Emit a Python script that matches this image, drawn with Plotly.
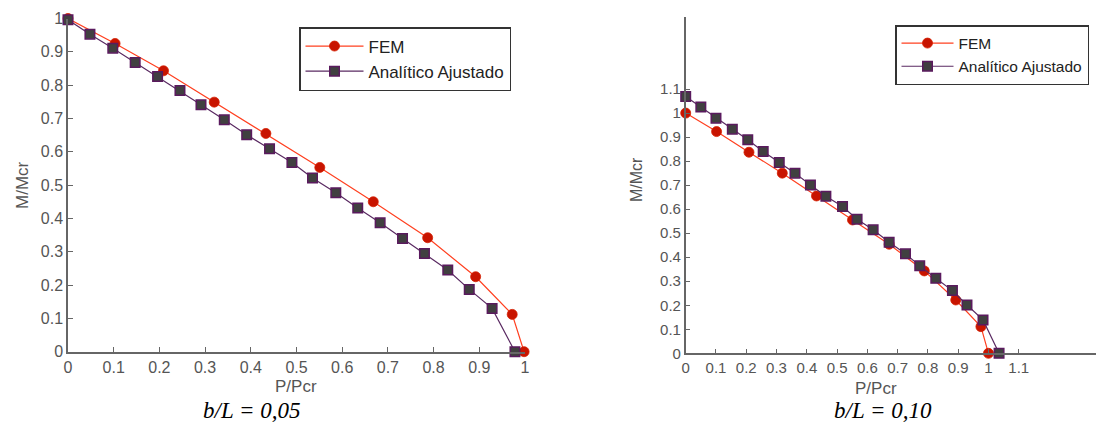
import plotly.graph_objects as go

# Left chart (b/L = 0,05)
fem_x_05 = [0, 0.103, 0.209, 0.32, 0.433, 0.551, 0.668, 0.787, 0.892, 0.972, 0.998]
fem_y_05 = [1.0, 0.925, 0.843, 0.749, 0.655, 0.553, 0.45, 0.342, 0.225, 0.112, 0.0]
ana_x_05 = [0, 0.048, 0.098, 0.147, 0.196, 0.245, 0.291, 0.342, 0.391, 0.441, 0.49,
            0.535, 0.586, 0.634, 0.683, 0.732, 0.78, 0.831, 0.878, 0.928, 0.978]
ana_y_05 = [0.996, 0.953, 0.911, 0.868, 0.826, 0.784, 0.741, 0.696, 0.651, 0.609, 0.568,
            0.521, 0.477, 0.431, 0.387, 0.34, 0.295, 0.245, 0.187, 0.13, 0.0]

# Right chart (b/L = 0,10)
fem_x_10 = [0, 0.102, 0.209, 0.319, 0.432, 0.551, 0.672, 0.788, 0.892, 0.975, 1.0]
fem_y_10 = [1.0, 0.923, 0.837, 0.75, 0.655, 0.555, 0.454, 0.343, 0.222, 0.111, 0.0]
ana_x_10 = [0, 0.05, 0.1, 0.154, 0.205, 0.256, 0.309, 0.361, 0.412, 0.463, 0.518,
            0.566, 0.619, 0.672, 0.726, 0.773, 0.826, 0.881, 0.929, 0.982, 1.035]
ana_y_10 = [1.069, 1.025, 0.979, 0.933, 0.889, 0.84, 0.794, 0.75, 0.701, 0.654, 0.611,
            0.558, 0.514, 0.462, 0.414, 0.364, 0.312, 0.261, 0.201, 0.139, 0.0]

ticks_left_x = [0, 0.1, 0.2, 0.3, 0.4, 0.5, 0.6, 0.7, 0.8, 0.9, 1]
ticks_left_y = [0, 0.1, 0.2, 0.3, 0.4, 0.5, 0.6, 0.7, 0.8, 0.9, 1]
ticks_right_x = [0, 0.1, 0.2, 0.3, 0.4, 0.5, 0.6, 0.7, 0.8, 0.9, 1, 1.1]
ticks_right_y = [0, 0.1, 0.2, 0.3, 0.4, 0.5, 0.6, 0.7, 0.8, 0.9, 1, 1.1]

def fmt(v):
    return "0" if v == 0 else ("1" if v == 1 else f"{v:g}")

W, H = 1096, 424
OFF = 8  # default page body margin

def px(x):
    return (x - OFF) / W

def py(y):
    return 1 - (y - OFF) / H

FEM_LINE = "#ff4020"
FEM_FILL = "#c81400"
ANA_LINE = "#5a2a62"
ANA_FILL = "#404040"
AX = "#666666"
TXT = "#555555"
FONT = "Liberation Sans, Arial, sans-serif"

fig = go.Figure()

def add_pair(fx, fy, ax_, ay_, xa, ya, leg):
    fig.add_trace(go.Scatter(
        x=fx, y=fy, mode="lines+markers", name="FEM", xaxis=xa, yaxis=ya, legend=leg,
        line=dict(color=FEM_LINE, width=1.2),
        marker=dict(symbol="circle", size=10, color=FEM_FILL, line=dict(color="#d42000", width=0.8)),
        cliponaxis=False))
    fig.add_trace(go.Scatter(
        x=ax_, y=ay_, mode="lines+markers", name="Analítico Ajustado", xaxis=xa, yaxis=ya, legend=leg,
        line=dict(color=ANA_LINE, width=1.2),
        marker=dict(symbol="square", size=9.5, color=ANA_FILL, line=dict(color="#5a1a5e", width=1.5)),
        cliponaxis=False))

add_pair(fem_x_05, fem_y_05, ana_x_05, ana_y_05, "x", "y", "legend")
add_pair(fem_x_10, fem_y_10, ana_x_10, ana_y_10, "x2", "y2", "legend2")

def axis_common(size, standoff):
    return dict(showgrid=False, zeroline=False, showline=True, linecolor=AX, linewidth=1.5,
                ticks="inside", ticklen=5, tickcolor=AX, tickwidth=1.2, automargin=False,
                ticklabelstandoff=standoff,
                tickfont=dict(family=FONT, size=size, color=TXT))

fig.update_layout(
    width=W, height=H,
    margin=dict(l=0, r=0, t=0, b=0),
    paper_bgcolor="white", plot_bgcolor="white",
    xaxis=dict(domain=[px(68), px(525)], range=[0, 1], anchor="y",
               tickvals=ticks_left_x, ticktext=[fmt(v) for v in ticks_left_x], **axis_common(16, 0)),
    yaxis=dict(domain=[py(351.7), py(18.5)], range=[0, 1], anchor="x",
               tickvals=ticks_left_y, ticktext=[fmt(v) for v in ticks_left_y], **axis_common(16, 0)),
    xaxis2=dict(domain=[px(685.7), px(1100.5)], range=[0, 1.37], anchor="y2",
                tickvals=ticks_right_x, ticktext=[fmt(v) for v in ticks_right_x], **axis_common(15, 0)),
    yaxis2=dict(domain=[py(353.3), py(17)], range=[0, 1.4], anchor="x2",
                tickvals=ticks_right_y, ticktext=[fmt(v) for v in ticks_right_y], **axis_common(15, 0)),
    legend=dict(x=px(299), y=py(27), xanchor="left", yanchor="top",
                bordercolor="#333333", borderwidth=1.5, bgcolor="white",
                font=dict(family=FONT, size=17, color="#222222"),
                tracegroupgap=0, itemwidth=58),
    legend2=dict(x=px(895), y=py(25), xanchor="left", yanchor="top",
                 bordercolor="#333333", borderwidth=1.5, bgcolor="white",
                 font=dict(family=FONT, size=15.5, color="#222222"),
                 tracegroupgap=0, itemwidth=52),
    showlegend=True,
)

ann = [
    dict(text="P/Pcr", x=px(296), y=py(386), font=dict(family=FONT, size=17, color=TXT)),
    dict(text="P/Pcr", x=px(876), y=py(388), font=dict(family=FONT, size=17, color=TXT)),
    dict(text="M/Mcr", x=px(22), y=py(185), textangle=-90, font=dict(family=FONT, size=17, color=TXT)),
    dict(text="M/Mcr", x=px(636), y=py(180), textangle=-90, font=dict(family=FONT, size=16, color=TXT)),
    dict(text="<i>b/L = 0,05</i>", x=px(252), y=py(410),
         font=dict(family="Liberation Serif, Times New Roman, serif", size=23, color="black")),
    dict(text="<i>b/L = 0,10</i>", x=px(883), y=py(410),
         font=dict(family="Liberation Serif, Times New Roman, serif", size=23, color="black")),
]
for a in ann:
    fig.add_annotation(xref="paper", yref="paper", showarrow=False, xanchor="center", yanchor="middle", **a)

fig.write_html("out.html")
